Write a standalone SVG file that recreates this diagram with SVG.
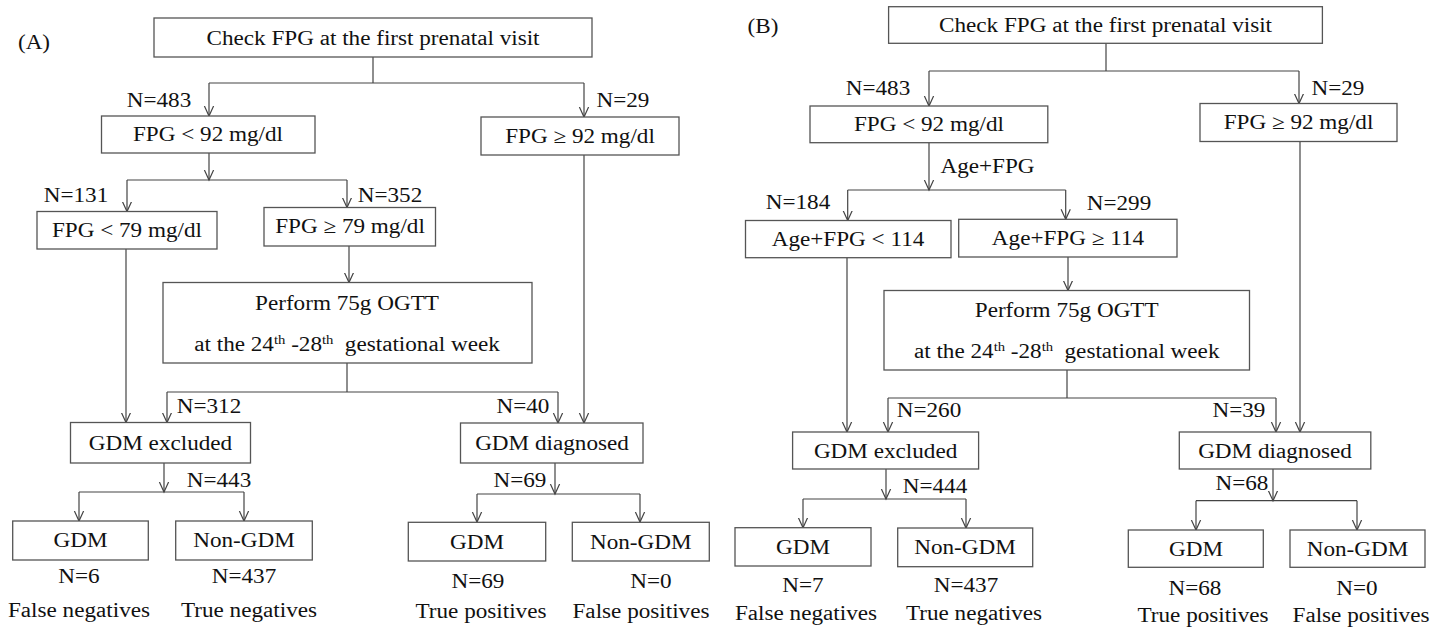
<svg xmlns="http://www.w3.org/2000/svg" width="1448" height="630" viewBox="0 0 1448 630">
<style>
text{font-family:"Liberation Serif","Times New Roman",serif;font-size:20.5px;fill:#111;text-anchor:middle;transform:scaleX(1.13);transform-box:fill-box;transform-origin:center}
.box{fill:#fff;stroke:#555;stroke-width:1.3}
.ln{fill:none;stroke:#444;stroke-width:1.2}
.ar{fill:none;stroke:#444;stroke-width:1.2;marker-end:url(#ah)}
.sup{font-size:13px}
</style>
<defs>
<marker id="ah" viewBox="0 -6 12 12" refX="10" refY="0" markerWidth="12" markerHeight="12" markerUnits="userSpaceOnUse" orient="auto">
<path d="M0,-4.6 L10,0 L0,4.6" fill="none" stroke="#444" stroke-width="1.2"/>
</marker>
</defs>
<rect width="1448" height="630" fill="#fff"/>

<g id="connectors">
<!-- Panel A -->
<path class="ln" d="M373,57 V83 M209,83 H584"/>
<path class="ar" d="M209,83 V116"/>
<path class="ar" d="M584,83 V117"/>
<path class="ar" d="M209,153 V180"/>
<path class="ln" d="M127,180 H347"/>
<path class="ar" d="M127,180 V211.5"/>
<path class="ar" d="M347,180 V207.5"/>
<path class="ar" d="M349,246 V282.5"/>
<path class="ln" d="M347,363 V392 M167,392 H558"/>
<path class="ar" d="M167,392 V422.5"/>
<path class="ar" d="M558,392 V423"/>
<path class="ar" d="M126,249 V422.5"/>
<path class="ar" d="M584,155 V423"/>
<path class="ar" d="M164,463 V492"/>
<path class="ln" d="M79,492 H244"/>
<path class="ar" d="M79,492 V521"/>
<path class="ar" d="M244,492 V521"/>
<path class="ar" d="M555,463 V494"/>
<path class="ln" d="M477,494 H640"/>
<path class="ar" d="M477,494 V522"/>
<path class="ar" d="M640,494 V522"/>
<!-- Panel B -->
<path class="ln" d="M1106,43 V71 M929,71 H1299"/>
<path class="ar" d="M929,71 V106"/>
<path class="ar" d="M1299,71 V103.5"/>
<path class="ar" d="M929,142.7 V190"/>
<path class="ln" d="M847.7,190 H1065.7"/>
<path class="ar" d="M847.7,190 V220.5"/>
<path class="ar" d="M1065.7,190 V219.3"/>
<path class="ar" d="M1068,257 V290.5"/>
<path class="ln" d="M1067,370 V398 M888,398 H1276"/>
<path class="ar" d="M888,398 V432"/>
<path class="ar" d="M1276,398 V432"/>
<path class="ar" d="M847,257.7 V432"/>
<path class="ar" d="M1300,141.5 V432"/>
<path class="ar" d="M886,469 V499"/>
<path class="ln" d="M803,499 H966"/>
<path class="ar" d="M803,499 V527.7"/>
<path class="ar" d="M966,499 V528"/>
<path class="ar" d="M1273,469 V500.7"/>
<path class="ln" d="M1196,500.7 H1357"/>
<path class="ar" d="M1196,500.7 V530"/>
<path class="ar" d="M1357,500.7 V530"/>
</g>

<g id="labels">
<text x="34" y="49">(A)</text>
<text x="159" y="107">N=483</text>
<text x="623" y="107">N=29</text>
<text x="76" y="202">N=131</text>
<text x="390" y="202">N=352</text>
<text x="209" y="413">N=312</text>
<text x="523" y="413">N=40</text>
<text x="219" y="487">N=443</text>
<text x="520" y="487">N=69</text>
<text x="79" y="583">N=6</text>
<text x="79" y="617">False negatives</text>
<text x="244" y="583">N=437</text>
<text x="249" y="617">True negatives</text>
<text x="478" y="588">N=69</text>
<text x="481" y="618">True positives</text>
<text x="651" y="588">N=0</text>
<text x="641" y="618">False positives</text>

<text x="763" y="33">(B)</text>
<text x="878" y="95">N=483</text>
<text x="1338" y="95">N=29</text>
<text x="987.5" y="173">Age+FPG</text>
<text x="798" y="209">N=184</text>
<text x="1119" y="210">N=299</text>
<text x="929" y="417">N=260</text>
<text x="1239" y="417">N=39</text>
<text x="935" y="493">N=444</text>
<text x="1242" y="490">N=68</text>
<text x="803" y="592">N=7</text>
<text x="806" y="620">False negatives</text>
<text x="966" y="592">N=437</text>
<text x="974" y="620">True negatives</text>
<text x="1195" y="595">N=68</text>
<text x="1203" y="622">True positives</text>
<text x="1357" y="595">N=0</text>
<text x="1361" y="622">False positives</text>
</g>

<!-- Panel A nodes -->
<g id="A_start"><rect class="box" x="154" y="18" width="438" height="39"/><text x="373" y="45">Check FPG at the first prenatal visit</text></g>
<g id="A_lt92"><rect class="box" x="101.5" y="116" width="213.5" height="37"/><text x="208" y="141.5">FPG &lt; 92 mg/dl</text></g>
<g id="A_ge92"><rect class="box" x="481" y="117" width="198" height="38"/><text x="580" y="143">FPG ≥ 92 mg/dl</text></g>
<g id="A_lt79"><rect class="box" x="37" y="211.5" width="180" height="37.5"/><text x="127" y="237.4">FPG &lt; 79 mg/dl</text></g>
<g id="A_ge79"><rect class="box" x="264" y="207.5" width="171.5" height="38.5"/><text x="350" y="233.5">FPG ≥ 79 mg/dl</text></g>
<g id="A_ogtt"><rect class="box" x="163" y="282.5" width="369" height="80.5"/><text x="347" y="310">Perform 75g OGTT</text><text x="347" y="351">at the 24<tspan class="sup" dy="-7">th</tspan><tspan dy="7"> -28</tspan><tspan class="sup" dy="-7">th</tspan><tspan dy="7" dx="5"> gestational week</tspan></text></g>
<g id="A_excl"><rect class="box" x="70.5" y="422.5" width="180" height="40.5"/><text x="160.5" y="450">GDM excluded</text></g>
<g id="A_diag"><rect class="box" x="460.5" y="423" width="182.5" height="40"/><text x="552" y="450">GDM diagnosed</text></g>
<g id="A_fn"><rect class="box" x="12.7" y="521" width="135.6" height="39"/><text x="80.5" y="547.5">GDM</text></g>
<g id="A_tn"><rect class="box" x="175.7" y="521" width="136.6" height="39"/><text x="244" y="547.5">Non-GDM</text></g>
<g id="A_tp"><rect class="box" x="408.3" y="522.3" width="137.4" height="38.7"/><text x="477" y="548.7">GDM</text></g>
<g id="A_fp"><rect class="box" x="572.3" y="522.3" width="137" height="38.7"/><text x="640.8" y="548.7">Non-GDM</text></g>

<!-- Panel B nodes -->
<g id="B_start"><rect class="box" x="888.6" y="6.7" width="433.8" height="36.6"/><text x="1105.5" y="32">Check FPG at the first prenatal visit</text></g>
<g id="B_lt92"><rect class="box" x="810" y="106" width="237.8" height="36.7"/><text x="929" y="131.4">FPG &lt; 92 mg/dl</text></g>
<g id="B_ge92"><rect class="box" x="1200" y="103.5" width="197" height="38"/><text x="1298.5" y="129.5">FPG ≥ 92 mg/dl</text></g>
<g id="B_lt114"><rect class="box" x="745.5" y="220.5" width="205.5" height="37.2"/><text x="848" y="246.2">Age+FPG &lt; 114</text></g>
<g id="B_ge114"><rect class="box" x="958.7" y="219.3" width="218.3" height="37.7"/><text x="1068" y="245.2">Age+FPG ≥ 114</text></g>
<g id="B_ogtt"><rect class="box" x="884" y="290.5" width="365.5" height="79.5"/><text x="1066.7" y="317.3">Perform 75g OGTT</text><text x="1066.7" y="358.3">at the 24<tspan class="sup" dy="-7">th</tspan><tspan dy="7"> -28</tspan><tspan class="sup" dy="-7">th</tspan><tspan dy="7" dx="5"> gestational week</tspan></text></g>
<g id="B_excl"><rect class="box" x="792.6" y="432" width="186" height="37"/><text x="885.6" y="457.7">GDM excluded</text></g>
<g id="B_diag"><rect class="box" x="1179.3" y="432" width="191.5" height="37"/><text x="1275" y="457.7">GDM diagnosed</text></g>
<g id="B_fn"><rect class="box" x="735" y="527.7" width="136" height="38.3"/><text x="803" y="553.9">GDM</text></g>
<g id="B_tn"><rect class="box" x="897.7" y="528" width="135" height="38.7"/><text x="965" y="554.3">Non-GDM</text></g>
<g id="B_tp"><rect class="box" x="1128.3" y="530" width="135" height="37.3"/><text x="1196" y="555.7">GDM</text></g>
<g id="B_fp"><rect class="box" x="1290" y="530" width="135" height="37.3"/><text x="1357.5" y="555.7">Non-GDM</text></g>
</svg>
